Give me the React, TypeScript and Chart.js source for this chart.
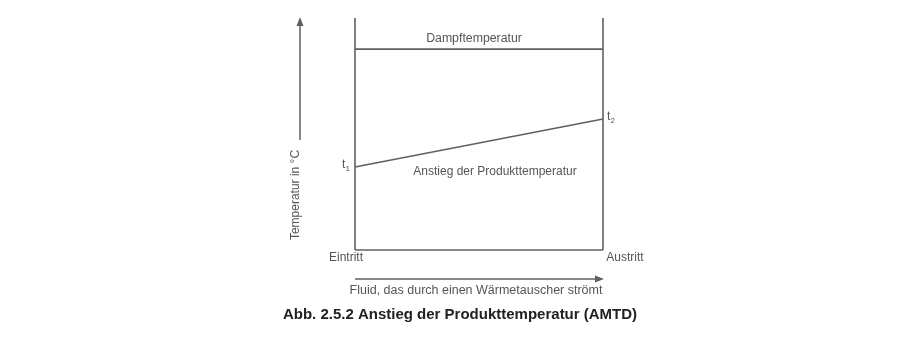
import React, { useEffect, useRef } from "react";
import { Chart, registerables } from "chart.js";

Chart.register(...registerables);

// positions along the exchanger (0 = Eintritt, 1 = Austritt)
const positions = [0, 1];
const positionLabels = ["Eintritt", "Austritt"];
// temperatures (relative scale, 0..100)
const steamTemperature = [86.6, 86.6];
const productTemperature = [35.8, 56.5];
const productPointLabels = ["1", "2"];
const yMin = 0;
const yMax = 100;

const texts = {
  steam: "Dampftemperatur",
  product: "Anstieg der Produkttemperatur",
  yTitle: "Temperatur in °C",
  xTitle: "Fluid, das durch einen Wärmetauscher strömt",
  caption: "Abb. 2.5.2 Anstieg der Produkttemperatur (AMTD)",
};

const LINE = "#606060";
const TEXT = "#555555";
const FONT = "'Liberation Sans', Arial, sans-serif";

export default function App() {
  const ref = useRef<HTMLCanvasElement | null>(null);

  useEffect(() => {
    if (!ref.current) return;

    const overlay = {
      id: "overlay",
      afterDraw(chart: any) {
        const { ctx } = chart;
        const xs = chart.scales.x;
        const ys = chart.scales.y;
        const x0 = xs.getPixelForValue(positions[0]);
        const x1 = xs.getPixelForValue(positions[1]);
        const yTop = ys.getPixelForValue(yMax);
        const yBot = ys.getPixelForValue(yMin);
        const xc = (x0 + x1) / 2;
        ctx.save();
        ctx.fillStyle = TEXT;
        ctx.textBaseline = "middle";
        ctx.textAlign = "center";
        ctx.font = `12.3px ${FONT}`;
        ctx.fillText(texts.steam, xc - 5, ys.getPixelForValue(steamTemperature[0]) - 10);
        ctx.font = `12px ${FONT}`;
        ctx.fillText(texts.product, xc + 16, ys.getPixelForValue(productTemperature[0]) + 5);
        // Eintritt / Austritt
        ctx.fillText(positionLabels[0], x0 - 9, yBot + 8);
        ctx.fillText(positionLabels[1], x1 + 22, yBot + 8);
        // t1 / t2
        const tLabel = (x: number, y: number, sub: string) => {
          ctx.textAlign = "left";
          ctx.font = `12px ${FONT}`;
          ctx.fillText("t", x, y);
          ctx.font = `8px ${FONT}`;
          ctx.fillText(sub, x + 3.5, y + 4);
        };
        tLabel(x0 - 13, ys.getPixelForValue(productTemperature[0]) - 2, productPointLabels[0]);
        tLabel(x1 + 4, ys.getPixelForValue(productTemperature[1]) - 2, productPointLabels[1]);

        // y arrow
        ctx.strokeStyle = LINE;
        ctx.fillStyle = LINE;
        ctx.lineWidth = 1.5;
        const ax = x0 - 55;
        ctx.beginPath();
        ctx.moveTo(ax, yTop + 122);
        ctx.lineTo(ax, yTop + 4);
        ctx.stroke();
        ctx.beginPath();
        ctx.moveTo(ax, yTop - 1);
        ctx.lineTo(ax - 3.5, yTop + 8);
        ctx.lineTo(ax + 3.5, yTop + 8);
        ctx.closePath();
        ctx.fill();
        ctx.save();
        ctx.translate(ax - 4, yTop + 177);
        ctx.rotate(-Math.PI / 2);
        ctx.textAlign = "center";
        ctx.fillStyle = TEXT;
        ctx.font = `12px ${FONT}`;
        ctx.fillText(texts.yTitle, 0, 0);
        ctx.restore();

        // x arrow
        const ay = yBot + 29;
        ctx.beginPath();
        ctx.moveTo(x0, ay);
        ctx.lineTo(x1 - 4, ay);
        ctx.stroke();
        ctx.beginPath();
        ctx.moveTo(x1 + 1, ay);
        ctx.lineTo(x1 - 8, ay - 3.5);
        ctx.lineTo(x1 - 8, ay + 3.5);
        ctx.closePath();
        ctx.fill();

        ctx.fillStyle = TEXT;
        ctx.textAlign = "center";
        ctx.font = `12.5px ${FONT}`;
        ctx.fillText(texts.xTitle, xc - 3, ay + 12);

        ctx.fillStyle = "#222222";
        ctx.font = `bold 15px ${FONT}`;
        ctx.fillText(texts.caption, xc - 19, ay + 35.5);
        ctx.restore();
      },
    };

    const lineStyle = {
      borderColor: LINE,
      borderWidth: 1.6,
      pointRadius: 0,
      fill: false,
      clip: false as any,
    };

    const chart = new Chart(ref.current, {
      type: "line",
      data: {
        datasets: [
          { ...lineStyle, label: "steam", data: positions.map((x, i) => ({ x, y: steamTemperature[i] })) },
          { ...lineStyle, label: "product", data: positions.map((x, i) => ({ x, y: productTemperature[i] })) },
          { ...lineStyle, label: "left", data: [{ x: positions[0], y: yMin }, { x: positions[0], y: yMax }] },
          { ...lineStyle, label: "right", data: [{ x: positions[1], y: yMin }, { x: positions[1], y: yMax }] },
          { ...lineStyle, label: "bottom", data: [{ x: positions[0], y: yMin }, { x: positions[1], y: yMin }] },
        ],
      },
      options: {
        responsive: false,
        animation: false,
        layout: { padding: { left: 355, right: 297, top: 18, bottom: 90 } },
        plugins: { legend: { display: false }, tooltip: { enabled: false } },
        scales: {
          x: { type: "linear", min: positions[0], max: positions[1], display: false },
          y: { type: "linear", min: yMin, max: yMax, display: false },
        },
      },
      plugins: [overlay],
    });
    return () => chart.destroy();
  }, []);

  return (
    <div style={{ position: "absolute", left: 0, top: 0, width: 900, height: 340, background: "#fff" }}>
      <canvas ref={ref} width={900} height={340} />
    </div>
  );
}
